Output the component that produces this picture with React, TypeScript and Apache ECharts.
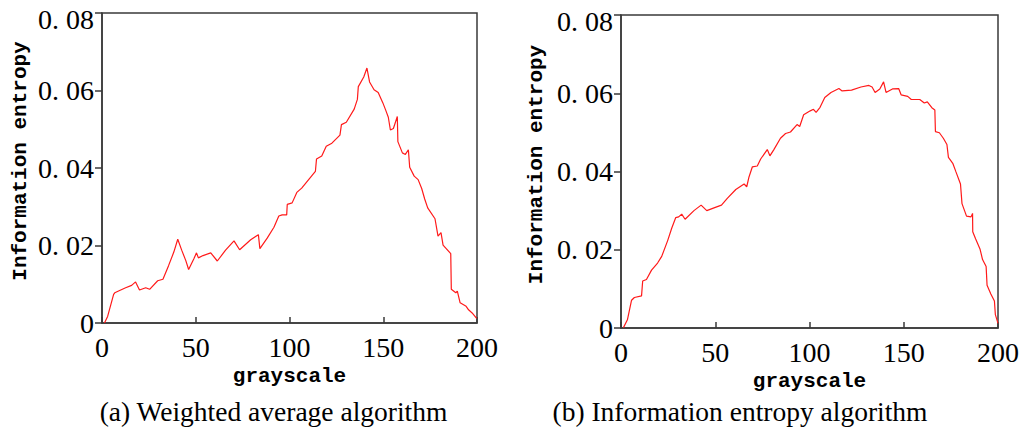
import React, { useEffect, useRef } from "react";
import * as echarts from "echarts";

// ---- data ----
const xTickValues = [0, 50, 100, 150, 200];
const yTickValues = [0, 0.02, 0.04, 0.06, 0.08];
const xAxisTitle = "grayscale";
const yAxisTitle = "Information entropy";
const captions = ["(a) Weighted average algorithm", "(b) Information entropy algorithm"];

// (a) Weighted average algorithm
const weightedGray = [
  1.3, 3, 6.2, 6.8, 12.6, 15.8, 17.9, 20, 23.3, 25.4, 29.7, 32.5, 35.5, 38.3, 40.4, 42.5, 44.7, 46.2, 49,
  50.4, 51.4, 53.9, 58, 61.5, 65.9, 70.4, 73.4, 79.3, 83.4, 84.2, 88.1, 91.7, 94.3, 96.1, 98.5, 98.8, 101.4,
  103.9, 106.5, 113.8, 114.4, 117.2, 119.6, 122.6, 126.9, 127.7, 130.3, 134.5, 136.2, 136.7, 139.6, 141.3,
  142.7, 145.1, 147.3, 149.8, 151.4, 152.7, 153.8, 155.4, 157.5, 157.8, 160.2, 161.8, 163.4, 164.1, 166.5,
  168.6, 170.5, 172.1, 173.7, 177.6, 179.2, 180.8, 181.9, 186, 186.3, 188.7, 189.5, 191, 194.2, 195.5,
  197.4, 199.8,
];
const weightedEntropy = [
  0, 0.0017, 0.0074, 0.0078, 0.0091, 0.0097, 0.0106, 0.0085, 0.0091, 0.0087, 0.0109, 0.0113, 0.0148, 0.0183,
  0.0216, 0.0188, 0.0161, 0.0138, 0.0166, 0.0181, 0.0168, 0.0174, 0.0181, 0.016, 0.0188, 0.0212, 0.0189,
  0.0215, 0.0228, 0.0192, 0.0219, 0.0247, 0.0276, 0.0279, 0.0279, 0.0306, 0.031, 0.0337, 0.0348, 0.0391,
  0.0423, 0.0431, 0.0456, 0.0464, 0.0485, 0.0512, 0.0518, 0.0552, 0.0577, 0.061, 0.0635, 0.0658, 0.0622,
  0.0602, 0.0595, 0.0568, 0.0548, 0.0531, 0.0498, 0.0502, 0.0533, 0.0468, 0.0439, 0.0435, 0.0447, 0.0402,
  0.0379, 0.037, 0.0347, 0.032, 0.0297, 0.0269, 0.0224, 0.0233, 0.0201, 0.0179, 0.0087, 0.0078, 0.0082,
  0.0052, 0.0043, 0.0034, 0.0026, 0.0012,
];

// (b) Information entropy algorithm
const entropyGray = [
  1.3, 3.4, 5.6, 7.1, 10.9, 11.5, 13.5, 16.2, 19.4, 21.6, 24.8, 26.9, 29, 30.6, 32.2, 34, 38.7, 42.5, 45.5,
  50.4, 53.3, 56.5, 60.9, 65.3, 66.7, 67.9, 69.7, 72.3, 74.1, 77.6, 79, 81.1, 84.6, 87.3, 89.9, 93.4, 94.8,
  96.9, 100.4, 102.1, 103.5, 105.6, 108.1, 111.4, 115.6, 117.3, 122.3, 127.3, 131.5, 133.2, 134.8, 137.3,
  139.3, 140.6, 144, 147.3, 148.6, 152.1, 154, 158.5, 160.9, 162.5, 164.9, 166.5, 166.8, 168.9, 171, 172.9,
  173.7, 176.1, 177.7, 180.1, 180.9, 183.3, 185.7, 186.5, 186.6, 188.1, 190.5, 191.8, 193.7, 194.2, 196.2,
  198.1, 198.6, 200,
];
const entropyEntropy = [
  0.0001, 0.0021, 0.0071, 0.0078, 0.0082, 0.012, 0.0124, 0.0148, 0.0166, 0.0183, 0.0224, 0.0255, 0.0282,
  0.0284, 0.0291, 0.0278, 0.03, 0.0314, 0.03, 0.0309, 0.0314, 0.0332, 0.0354, 0.0368, 0.0361, 0.0386, 0.0412,
  0.0414, 0.0432, 0.0456, 0.044, 0.0456, 0.0485, 0.0497, 0.0501, 0.052, 0.0515, 0.0545, 0.0555, 0.0559,
  0.0551, 0.0564, 0.0589, 0.0602, 0.0612, 0.0606, 0.0608, 0.0616, 0.062, 0.0616, 0.0602, 0.0611, 0.0629,
  0.0602, 0.0611, 0.0612, 0.0596, 0.0592, 0.0584, 0.0584, 0.0575, 0.0578, 0.0563, 0.0557, 0.0502, 0.0499,
  0.0485, 0.0469, 0.0436, 0.042, 0.0399, 0.0368, 0.0318, 0.0286, 0.0284, 0.0293, 0.0246, 0.0228, 0.0201,
  0.0175, 0.0157, 0.0109, 0.0087, 0.0069, 0.0034, 0.0012,
];

const toPairs = (xs: number[], ys: number[]) => xs.map((x, i) => [x, ys[i]]);

const AXIS_COLOR = "#3a3a3a";
const SERIF = "'Liberation Serif', 'Times New Roman', serif";
const MONO = "'Liberation Mono', 'Courier New', monospace";
const Y_MAX = yTickValues[yTickValues.length - 1];

function xAxisFor(gridIndex: number) {
  return {
    type: "value",
    gridIndex,
    min: xTickValues[0],
    max: xTickValues[xTickValues.length - 1],
    interval: xTickValues[1] - xTickValues[0],
    name: xAxisTitle,
    nameLocation: "middle",
    nameGap: 42,
    nameTextStyle: { fontFamily: MONO, fontWeight: "bold", fontSize: 21, color: "#000" },
    axisLine: { show: true, lineStyle: { color: AXIS_COLOR, width: 1.5 } },
    axisTick: { show: true, inside: true, length: 6, lineStyle: { color: AXIS_COLOR, width: 1.5 } },
    axisLabel: {
      show: true,
      margin: 10,
      fontFamily: SERIF,
      fontSize: 28,
      color: "#000",
      showMinLabel: true,
      showMaxLabel: true,
    },
    splitLine: { show: false },
  };
}

function yAxisFor(gridIndex: number, nameGap: number) {
  return {
    type: "value",
    gridIndex,
    min: yTickValues[0],
    max: Y_MAX,
    interval: yTickValues[1] - yTickValues[0],
    name: yAxisTitle,
    nameLocation: "middle",
    nameGap,
    nameTextStyle: {
      fontFamily: MONO,
      fontWeight: "bold",
      fontSize: 21,
      color: "#000",
      padding: [0, 0, 0, 14],
    },
    axisLine: { show: true, lineStyle: { color: AXIS_COLOR, width: 1.5 } },
    axisTick: { show: true, inside: false, length: 7, lineStyle: { color: AXIS_COLOR, width: 1.5 } },
    axisLabel: {
      show: true,
      margin: 8,
      fontFamily: SERIF,
      fontSize: 28,
      color: "#000",
      showMinLabel: true,
      showMaxLabel: true,
      formatter: (v: number) => {
        const txt = v === 0 ? "0" : v.toFixed(2).replace(".", ". ");
        return Math.abs(v - Y_MAX) < 1e-9 ? `{top|${txt}}` : txt;
      },
      rich: {
        top: { fontFamily: SERIF, fontSize: 28, color: "#000", padding: [12, 0, 0, 0] },
      },
    },
    splitLine: { show: false },
  };
}

function lineSeries(index: number, data: number[][]) {
  return {
    type: "line",
    xAxisIndex: index,
    yAxisIndex: index,
    data,
    showSymbol: false,
    symbol: "none",
    smooth: false,
    lineStyle: { color: "#ff1a1a", width: 1.2 },
    itemStyle: { color: "#ff1a1a" },
  };
}

export default function App() {
  const ref = useRef<HTMLDivElement | null>(null);

  useEffect(() => {
    document.body.style.margin = "0";
    if (!ref.current) return;
    const chart = echarts.init(ref.current, undefined, { renderer: "svg" });
    const captionStyle = (text: string) => ({
      text,
      font: `27.5px ${SERIF}`,
      fill: "#000",
      textAlign: "center",
      textVerticalAlign: "middle",
      align: "center",
      verticalAlign: "middle",
    });
    chart.setOption({
      animation: false,
      backgroundColor: "#fff",
      grid: [
        {
          left: 102,
          top: 13,
          width: 375,
          height: 310,
          show: true,
          borderColor: AXIS_COLOR,
          borderWidth: 1.5,
          backgroundColor: "transparent",
          containLabel: false,
          outerBoundsMode: "none",
        },
        {
          left: 621,
          top: 15,
          width: 377,
          height: 313,
          show: true,
          borderColor: AXIS_COLOR,
          borderWidth: 1.5,
          backgroundColor: "transparent",
          containLabel: false,
          outerBoundsMode: "none",
        },
      ],
      xAxis: [xAxisFor(0), xAxisFor(1)],
      yAxis: [yAxisFor(0, 71), yAxisFor(1, 74)],
      series: [
        lineSeries(0, toPairs(weightedGray, weightedEntropy)),
        lineSeries(1, toPairs(entropyGray, entropyEntropy)),
      ],
      graphic: [
        { type: "text", x: 273.5, y: 411, style: captionStyle(captions[0]) },
        { type: "text", x: 740, y: 411, style: captionStyle(captions[1]) },
      ],
    });
    return () => chart.dispose();
  }, []);

  return <div ref={ref} style={{ width: 1022, height: 429 }} />;
}
